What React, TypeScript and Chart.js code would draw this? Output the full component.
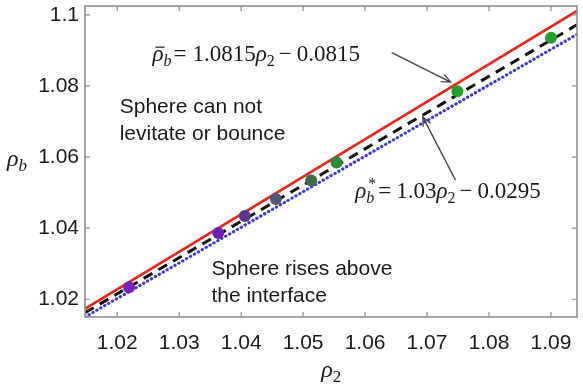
import { useEffect, useRef } from "react";
import { Chart, registerables } from "chart.js";

Chart.register(...registerables);

// ---- axes ----
const xTicks = [1.02, 1.03, 1.04, 1.05, 1.06, 1.07, 1.08, 1.09];
const yTicks = [1.02, 1.04, 1.06, 1.08, 1.1];
const xRange = [1.0148, 1.0942];
const yRange = [1.015, 1.1025];

// ---- fitted lines ----
const lineX = [1.0148, 1.0942];
const redY = [1.0173, 1.1011];
const dashY = [1.0162, 1.0972];
const dotY = [1.0150, 1.0945];

// ---- experimental points ----
const pointX = [1.0219, 1.0363, 1.0406, 1.0456, 1.0513, 1.0554, 1.0749, 1.09];
const pointY = [1.0234, 1.0386, 1.0434, 1.0482, 1.0534, 1.0585, 1.0785, 1.0936];
const pointColors = ["#7a1fb8", "#7020b0", "#5e3590", "#4f5878", "#3b6c4c", "#2a8a3a", "#1fa22e", "#1fa22e"];

// ---- annotations (data coordinates) ----
const upperRegionText = ["Sphere can not", "levitate or bounce"];
const upperRegionAt = [1.0204, 1.0723];
const lowerRegionText = ["Sphere rises above", "the interface"];
const lowerRegionAt = [1.0352, 1.0267];
const eq1At = [1.0257, 1.0869];
const eq2At = [1.0584, 1.0484];
const arrow1 = { from: [1.0643, 1.0894], to: [1.0738, 1.0811] };
const arrow2 = { from: [1.0746, 1.0535], to: [1.0693, 1.0713] };

const SANS = '"Liberation Sans", Arial, Helvetica, sans-serif';
const SERIF = '"Liberation Serif", "Times New Roman", serif';

type Seg = { t: string; italic?: boolean; size?: number; dy?: number; bar?: boolean; sup?: string; pre?: number };

function drawRich(ctx: CanvasRenderingContext2D, x: number, y: number, segs: Seg[], base: number) {
  ctx.textAlign = "left";
  ctx.textBaseline = "alphabetic";
  for (const s of segs) {
    x += s.pre ?? 0;
    const size = s.size ?? base;
    ctx.font = `${s.italic ? "italic " : ""}${size}px ${SERIF}`;
    ctx.fillText(s.t, x, y + (s.dy ?? 0));
    const w = ctx.measureText(s.t).width;
    if (s.bar) {
      ctx.save();
      ctx.lineWidth = 1.2;
      ctx.strokeStyle = ctx.fillStyle as string;
      ctx.beginPath();
      ctx.moveTo(x + 3, y - size * 0.62);
      ctx.lineTo(x + w + 1, y - size * 0.62);
      ctx.stroke();
      ctx.restore();
    }
    if (s.sup) {
      ctx.font = `${size}px ${SERIF}`;
      ctx.fillText(s.sup, x + 2, y - 9);
    }
    x += w;
  }
}

function drawArrow(ctx: CanvasRenderingContext2D, x1: number, y1: number, x2: number, y2: number) {
  ctx.save();
  ctx.strokeStyle = "#444";
  ctx.lineWidth = 1.3;
  ctx.beginPath();
  ctx.moveTo(x1, y1);
  ctx.lineTo(x2, y2);
  const a = Math.atan2(y2 - y1, x2 - x1);
  const L = 10;
  const s = 0.42;
  ctx.moveTo(x2 - L * Math.cos(a - s), y2 - L * Math.sin(a - s));
  ctx.lineTo(x2, y2);
  ctx.lineTo(x2 - L * Math.cos(a + s), y2 - L * Math.sin(a + s));
  ctx.stroke();
  ctx.restore();
}

const fmt = (v: number) => String(Number(v.toFixed(2)));

const annotPlugin = {
  id: "annot",
  afterDraw(chart: any) {
    const ctx: CanvasRenderingContext2D = chart.ctx;
    const { left, right, top, bottom } = chart.chartArea;
    const xs = chart.scales.x;
    const ys = chart.scales.y;
    const px = (v: number) => xs.getPixelForValue(v);
    const py = (v: number) => ys.getPixelForValue(v);

    // box + inward ticks
    ctx.save();
    ctx.strokeStyle = "#8f8f8f";
    ctx.lineWidth = 1.6;
    ctx.strokeRect(left, top, right - left, bottom - top);
    ctx.lineWidth = 1.2;
    ctx.beginPath();
    for (const v of xTicks) {
      const x = px(v);
      ctx.moveTo(x, bottom);
      ctx.lineTo(x, bottom - 5);
      ctx.moveTo(x, top);
      ctx.lineTo(x, top + 5);
    }
    for (const v of yTicks) {
      const y = py(v);
      ctx.moveTo(left, y);
      ctx.lineTo(left + 5, y);
      ctx.moveTo(right, y);
      ctx.lineTo(right - 5, y);
    }
    ctx.stroke();
    ctx.restore();

    ctx.save();
    ctx.fillStyle = "#1a1a1a";
    // region labels
    ctx.font = `21px ${SANS}`;
    ctx.textAlign = "left";
    ctx.textBaseline = "alphabetic";
    upperRegionText.forEach((t, i) => ctx.fillText(t, px(upperRegionAt[0]), py(upperRegionAt[1]) + i * 27));
    lowerRegionText.forEach((t, i) => ctx.fillText(t, px(lowerRegionAt[0]), py(lowerRegionAt[1]) + i * 27));

    // equations
    drawRich(ctx, px(eq1At[0]), py(eq1At[1]), [
      { t: "ρ", italic: true, bar: true },
      { t: "b", italic: true, size: 16, dy: 5 },
      { t: "=", pre: 2 },
      { t: "1.0815", pre: 6 },
      { t: "ρ", italic: true },
      { t: "2", size: 16, dy: 5 },
      { t: "−", pre: 4 },
      { t: "0.0815", pre: 5 },
    ], 23);
    drawRich(ctx, px(eq2At[0]), py(eq2At[1]), [
      { t: "ρ", italic: true },
      { t: "b", italic: true, size: 16, dy: 5, sup: "*" },
      { t: "=", pre: 4 },
      { t: "1.03", pre: 5 },
      { t: "ρ", italic: true },
      { t: "2", size: 16, dy: 5 },
      { t: "−", pre: 4 },
      { t: "0.0295", pre: 5 },
    ], 23);

    // axis titles
    const cx = (left + right) / 2;
    ctx.font = `italic 24px ${SERIF}`;
    const wr = ctx.measureText("ρ").width;
    ctx.fillText("ρ", cx - wr / 2 - 4, 377);
    ctx.font = `17px ${SERIF}`;
    ctx.fillText("2", cx + wr / 2 - 4, 382);

    ctx.font = `italic 24px ${SERIF}`;
    ctx.fillText("ρ", 7, 166);
    ctx.font = `italic 17px ${SERIF}`;
    ctx.fillText("b", 7 + wr, 171);
    ctx.restore();

    drawArrow(ctx, px(arrow1.from[0]), py(arrow1.from[1]), px(arrow1.to[0]), py(arrow1.to[1]));
    drawArrow(ctx, px(arrow2.from[0]), py(arrow2.from[1]), px(arrow2.to[0]), py(arrow2.to[1]));
  },
};

export default function App() {
  const ref = useRef<HTMLCanvasElement | null>(null);
  useEffect(() => {
    if (!ref.current) return;
    const toPts = (xs: number[], ys: number[]) => xs.map((x, i) => ({ x, y: ys[i] }));
    const chart = new Chart(ref.current, {
      type: "scatter",
      data: {
        datasets: [
          {
            label: "experiments",
            data: toPts(pointX, pointY),
            pointRadius: 6,
            pointBorderWidth: 0,
            pointBackgroundColor: pointColors,
            showLine: false,
          } as any,
          {
            label: "upper",
            data: toPts(lineX, redY),
            showLine: true,
            borderColor: "#e8281e",
            borderWidth: 2.6,
            pointRadius: 0,
          },
          {
            label: "mean",
            data: toPts(lineX, dashY),
            showLine: true,
            borderColor: "#111",
            borderWidth: 3,
            borderDash: [10, 7],
            pointRadius: 0,
          },
          {
            label: "lower",
            data: toPts(lineX, dotY),
            showLine: true,
            borderColor: "#3a3ad0",
            borderWidth: 3,
            borderDash: [0.5, 4],
            borderCapStyle: "round",
            pointRadius: 0,
          },
        ],
      },
      options: {
        responsive: false,
        animation: false,
        devicePixelRatio: 1,
        events: [],
        layout: { padding: { top: 3, right: 1, left: 0, bottom: 0 } },
        plugins: { legend: { display: false }, tooltip: { enabled: false } },
        scales: {
          x: {
            type: "linear",
            min: xRange[0],
            max: xRange[1],
            afterBuildTicks: (s: any) => {
              s.ticks = xTicks.map((value) => ({ value }));
            },
            afterFit: (s: any) => {
              s.height = 70;
              s.paddingLeft = 0;
              s.paddingRight = 0;
            },
            grid: { display: false, drawTicks: false },
            border: { display: false },
            ticks: {
              autoSkip: false,
              maxRotation: 0,
              padding: 14,
              color: "#1a1a1a",
              font: { family: SANS, size: 21 },
              callback: (v: any) => fmt(Number(v)),
            },
          },
          y: {
            type: "linear",
            min: yRange[0],
            max: yRange[1],
            afterBuildTicks: (s: any) => {
              s.ticks = yTicks.map((value) => ({ value }));
            },
            afterFit: (s: any) => {
              s.width = 85;
              s.paddingTop = 0;
              s.paddingBottom = 0;
            },
            grid: { display: false, drawTicks: false },
            border: { display: false },
            ticks: {
              autoSkip: false,
              padding: 6,
              color: "#1a1a1a",
              font: { family: SANS, size: 21 },
              callback: (v: any) => fmt(Number(v)),
            },
          },
        },
      },
      plugins: [annotPlugin],
    });
    return () => chart.destroy();
  }, []);
  return (
    <div style={{ position: "fixed", left: 0, top: 0, width: 583, height: 387, background: "#fff" }}>
      <canvas ref={ref} width={583} height={387} style={{ display: "block" }} />
    </div>
  );
}
